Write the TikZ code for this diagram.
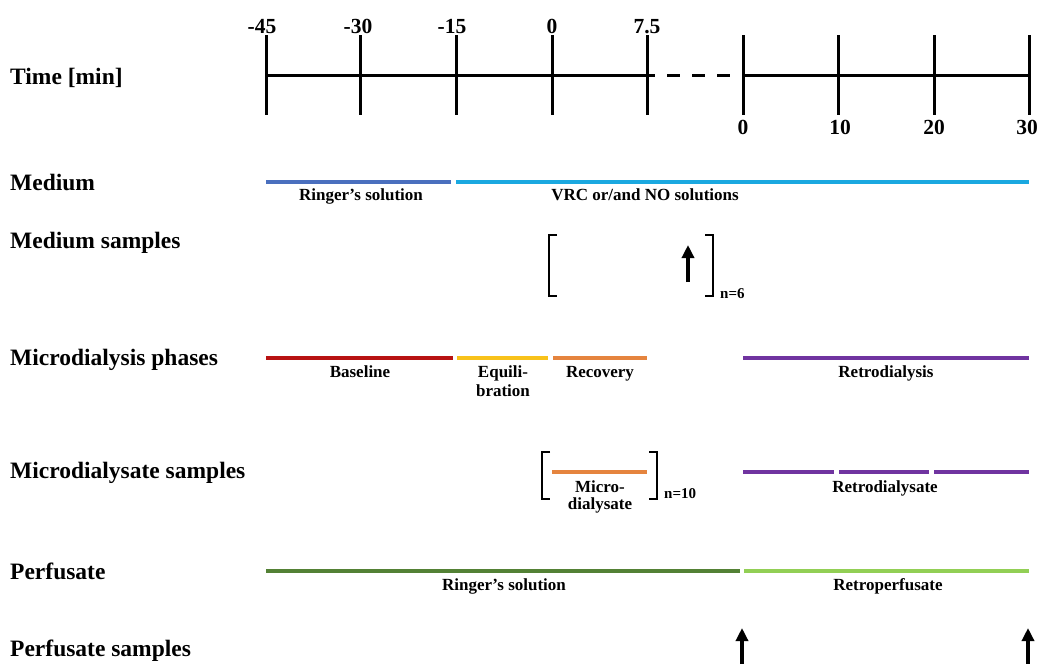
\documentclass[tikz,border=0pt]{standalone}
\usepackage{fontspec}
\setmainfont{Liberation Serif}
\usetikzlibrary{arrows.meta}
\definecolor{cRing}{HTML}{4A6FBE}
\definecolor{cVRC}{HTML}{1AA8E0}
\definecolor{cBase}{HTML}{B81212}
\definecolor{cEqui}{HTML}{F8C21A}
\definecolor{cReco}{HTML}{E5843E}
\definecolor{cRetro}{HTML}{7034A0}
\definecolor{cPerf}{HTML}{538135}
\definecolor{cRetP}{HTML}{92CF55}
\begin{document}
\begin{tikzpicture}[x=1pt,y=-1pt,
  rowlabel/.style={anchor=base west,font=\fontsize{23.5}{25}\selectfont\bfseries,inner sep=0pt},
  seglabel/.style={anchor=base,font=\fontsize{17}{19}\selectfont\bfseries,inner sep=0pt},
  ticklabel/.style={anchor=base,font=\fontsize{21.5}{23}\selectfont\bfseries,inner sep=0pt},
  nlabel/.style={anchor=base west,font=\fontsize{15}{17}\selectfont\bfseries,inner sep=0pt},
  axisline/.style={line width=3pt},
  tickline/.style={line width=3pt},
  bar/.style={line width=4.5pt},
  bracketline/.style={line width=2.5pt},
  samplearrow/.style={line width=3.5pt,-{Triangle[width=12pt,length=13pt]}}]
\useasboundingbox (0,0) rectangle (1039,664);

% ---------- row labels
\node[rowlabel] (lTime) at (10,84) {Time [min]};
\node[rowlabel] (lMed) at (10,190) {Medium};
\node[rowlabel] (lMedS) at (10,248) {Medium samples};
\node[rowlabel] (lPhase) at (10,365) {Microdialysis phases};
\node[rowlabel] (lMdS) at (10,478) {Microdialysate samples};
\node[rowlabel] (lPerf) at (10,579) {Perfusate};
\node[rowlabel] (lPerfS) at (10,656) {Perfusate samples};

% ---------- time axis
\foreach \n/\x in {m45/266,m30/360,m15/456,z0/552,p75/647}{
  \coordinate (a\n) at (\x,75);
  \coordinate (a\n t) at (\x,35);
  \coordinate (a\n b) at (\x,115);
  \draw[tickline] (a\n t) -- (a\n b);
}
\coordinate (aEnd) at (655,75);
\draw[axisline] (am45) -- (aEnd);
\coordinate (dS) at (667,75);
\coordinate (dE) at (730,75);
\draw[axisline,dash pattern=on 13pt off 12pt] (dS) -- (dE);
\foreach \n/\x in {b0/743,b10/838,b20/934,b30/1029}{
  \coordinate (a\n) at (\x,75);
  \coordinate (a\n t) at (\x,35);
  \coordinate (a\n b) at (\x,115);
  \draw[tickline] (a\n t) -- (a\n b);
}
\draw[axisline] (ab0) -- (ab30);

\node[ticklabel] (tm45) at (262,33) {-45};
\node[ticklabel] (tm30) at (358,33) {-30};
\node[ticklabel] (tm15) at (452,33) {-15};
\node[ticklabel] (tz0) at (552,33) {0};
\node[ticklabel] (tp75) at (647,33) {7.5};
\node[ticklabel] (tb0) at (743,134) {0};
\node[ticklabel] (tb10) at (840,134) {10};
\node[ticklabel] (tb20) at (934,134) {20};
\node[ticklabel] (tb30) at (1027,134) {30};

% ---------- Medium
\coordinate (m1) at (266,182); \coordinate (m2) at (451,182);
\coordinate (m3) at (456,182); \coordinate (m4) at (1029,182);
\draw[bar,cRing] (m1) -- (m2);
\draw[bar,cVRC] (m3) -- (m4);
\node[seglabel] (sRing) at (361,200) {Ringer’s solution};
\node[seglabel] (sVRC) at (645,200) {VRC or/and NO solutions};

% ---------- Medium samples
\coordinate (bl1) at (557,235); \coordinate (bl2) at (549,235);
\coordinate (bl3) at (549,296); \coordinate (bl4) at (557,296);
\draw[bracketline] (bl1) -- (bl2) -- (bl3) -- (bl4);
\coordinate (br1) at (705,235); \coordinate (br2) at (713,235);
\coordinate (br3) at (713,296); \coordinate (br4) at (705,296);
\draw[bracketline] (br1) -- (br2) -- (br3) -- (br4);
\coordinate (ms1) at (688,282); \coordinate (ms2) at (688,245);
\draw[samplearrow] (ms1) -- (ms2);
\node[nlabel] (n6) at (720,298) {n=6};

% ---------- Microdialysis phases
\coordinate (p1) at (266,358); \coordinate (p2) at (453,358);
\coordinate (p3) at (457,358); \coordinate (p4) at (548,358);
\coordinate (p5) at (553,358); \coordinate (p6) at (647,358);
\coordinate (p7) at (743,358); \coordinate (p8) at (1029,358);
\draw[bar,cBase] (p1) -- (p2);
\draw[bar,cEqui] (p3) -- (p4);
\draw[bar,cReco] (p5) -- (p6);
\draw[bar,cRetro] (p7) -- (p8);
\node[seglabel] (sBase) at (360,377) {Baseline};
\node[seglabel] (sEq1) at (503,377) {Equili-};
\node[seglabel] (sEq2) at (503,396) {bration};
\node[seglabel] (sRec) at (600,377) {Recovery};
\node[seglabel] (sRetro) at (886,377) {Retrodialysis};

% ---------- Microdialysate samples
\coordinate (cl1) at (550,452); \coordinate (cl2) at (542,452);
\coordinate (cl3) at (542,499); \coordinate (cl4) at (550,499);
\draw[bracketline] (cl1) -- (cl2) -- (cl3) -- (cl4);
\coordinate (cr1) at (649,452); \coordinate (cr2) at (657,452);
\coordinate (cr3) at (657,499); \coordinate (cr4) at (649,499);
\draw[bracketline] (cr1) -- (cr2) -- (cr3) -- (cr4);
\coordinate (md1) at (552,472); \coordinate (md2) at (647,472);
\draw[bar,cReco] (md1) -- (md2);
\node[seglabel] (sMic1) at (600,492) {Micro-};
\node[seglabel] (sMic2) at (600,509) {dialysate};
\node[nlabel] (n10) at (664,498) {n=10};
\coordinate (r1) at (743,472); \coordinate (r2) at (834,472);
\coordinate (r3) at (839,472); \coordinate (r4) at (929,472);
\coordinate (r5) at (934,472); \coordinate (r6) at (1029,472);
\draw[bar,cRetro] (r1) -- (r2);
\draw[bar,cRetro] (r3) -- (r4);
\draw[bar,cRetro] (r5) -- (r6);
\node[seglabel] (sRetroD) at (885,492) {Retrodialysate};

% ---------- Perfusate
\coordinate (f1) at (266,571); \coordinate (f2) at (740,571);
\coordinate (f3) at (744,571); \coordinate (f4) at (1029,571);
\draw[bar,cPerf] (f1) -- (f2);
\draw[bar,cRetP] (f3) -- (f4);
\node[seglabel] (sPRing) at (504,590) {Ringer’s solution};
\node[seglabel] (sRetP) at (888,590) {Retroperfusate};

% ---------- Perfusate samples
\coordinate (ps1a) at (742,666); \coordinate (ps1b) at (742,628);
\coordinate (ps2a) at (1028,666); \coordinate (ps2b) at (1028,628);
\draw[samplearrow] (ps1a) -- (ps1b);
\draw[samplearrow] (ps2a) -- (ps2b);
\end{tikzpicture}
\end{document}
